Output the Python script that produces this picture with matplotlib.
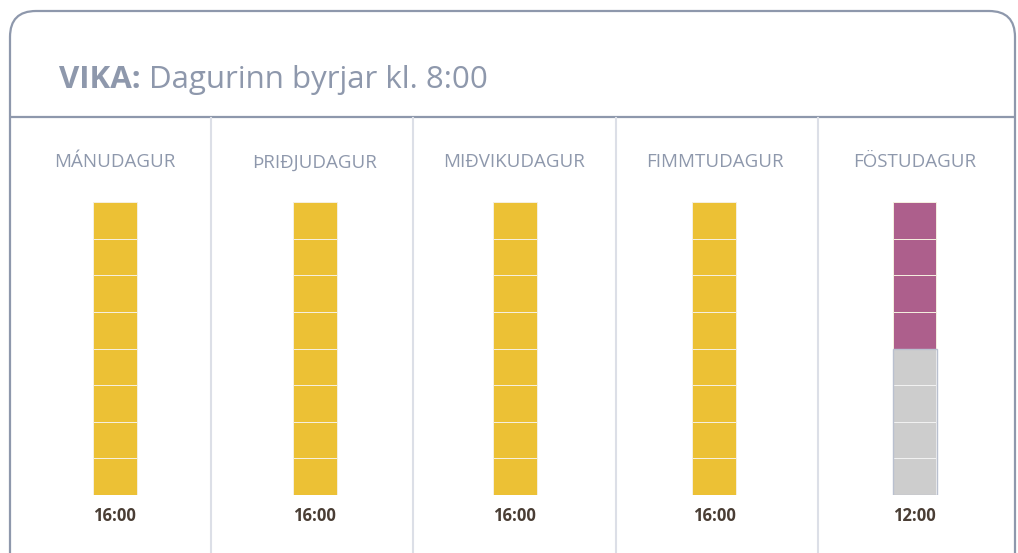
import matplotlib
matplotlib.use("Agg")
import matplotlib.pyplot as plt
from matplotlib.patches import FancyBboxPatch, Rectangle

plt.rcParams['font.family'] = ['Open Sans', 'DejaVu Sans']

days = ["MÁNUDAGUR", "ÞRIÐJUDAGUR", "MIÐVIKUDAGUR", "FIMMTUDAGUR", "FÖSTUDAGUR"]
hours_worked = [8, 8, 8, 8, 4]
slots_per_day = 8
end_times = ["16:00", "16:00", "16:00", "16:00", "12:00"]
day_colors = ["#ECC135", "#ECC135", "#ECC135", "#ECC135", "#AD5F8C"]
empty_color = "#CDCDCD"
title_bold = "VIKA:"
title_rest = "Dagurinn byrjar kl. 8:00"

W, H = 1018, 553
fig = plt.figure(figsize=(W / 100, H / 100), dpi=100)
fig.patch.set_facecolor("white")

# background / frame axes in pixel coords
bg = fig.add_axes([0, 0, 1, 1])
bg.set_xlim(0, W)
bg.set_ylim(H, 0)
bg.axis("off")

border = "#8E98AC"
card = FancyBboxPatch((10, 11), 1005, 600, boxstyle="round,pad=0,rounding_size=26",
                      facecolor="white", edgecolor=border, linewidth=1.6)
bg.add_patch(card)
bg.plot([10, 1015], [117, 117], color=border, lw=1.6, solid_capstyle="butt")
for xv in [211, 413, 616, 818]:
    bg.plot([xv, xv], [118, H], color="#DCDFE7", lw=1.5)

t1 = bg.text(59, 80, title_bold, fontsize=22.5, fontweight="bold", color=border,
             va="center", ha="left")
fig.canvas.draw()
ext = t1.get_window_extent()
bg.text(ext.x1 + 8, 80, title_rest, fontsize=22.5, color=border, va="center", ha="left")

# bars axes
ax = fig.add_axes([14.5 / W, 1 - 495 / H, 1000 / W, (495 - 202) / H])
ax.set_xlim(-0.5, len(days) - 0.5)
ax.set_ylim(0, slots_per_day)
ax.axis("off")

bw = 0.22
for i, (d, h) in enumerate(zip(days, hours_worked)):
    for k in range(slots_per_day):
        filled = k >= slots_per_day - h
        ax.bar(i, 1, bottom=k, width=bw,
               color=day_colors[i] if filled else empty_color,
               edgecolor="#F6F0E0" if filled else "#F2F2F2", linewidth=0.7)
    empty = slots_per_day - h
    if empty > 0:
        ax.add_patch(Rectangle((i - bw / 2, 0), bw, empty, fill=False,
                               edgecolor="#B9C0CF", linewidth=1.0))
    ax.text(i, slots_per_day + 1.08, d, ha="center", va="center",
            fontsize=13.5, fontweight=500, color=border)
    ax.text(i, -0.58, end_times[i], ha="center", va="center",
            fontsize=12, fontweight="bold", color="#4A3E35")

fig.savefig("out.png", dpi=100, facecolor="white")
